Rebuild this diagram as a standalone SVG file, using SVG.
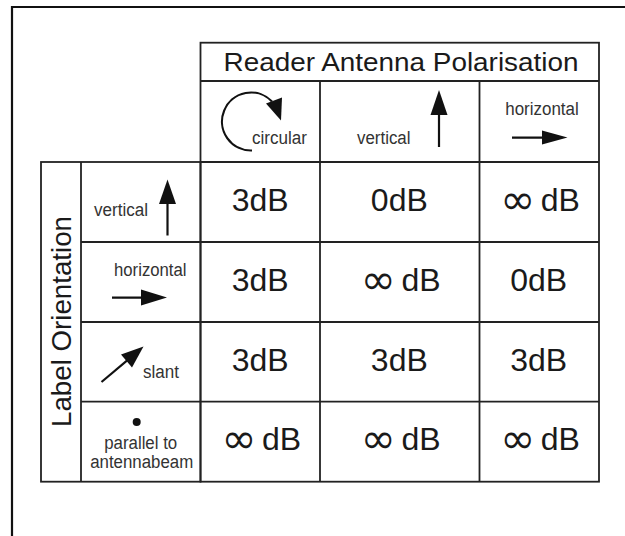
<svg xmlns="http://www.w3.org/2000/svg" width="625" height="536" viewBox="0 0 625 536">
<style>
.grid{stroke:#222;stroke-width:1.8;fill:none}
.frame{stroke:#111;stroke-width:2.2;fill:none}
.t{font-family:"Liberation Sans",Arial,sans-serif;fill:#1a1a1a}
.title{font-size:25px}
.side{font-size:27px}
.lab{font-size:18px;fill:#333}
.val{font-size:32px;text-anchor:middle}
.inf{font-family:"DejaVu Sans",sans-serif;font-size:42px}
.ln{stroke:#111;stroke-width:2.2;fill:none}
.hd{fill:#111}
</style>
<rect width="625" height="536" fill="#fff"/>
<path class="frame" d="M12,536 V7 H625"/>

<g id="grid">
<rect class="grid" x="200.5" y="42.7" width="398.5" height="439"/>
<rect class="grid" x="41" y="162" width="159.5" height="319.7"/>
<line class="grid" x1="200.5" y1="81" x2="599" y2="81"/>
<line class="grid" x1="200.5" y1="162" x2="599" y2="162"/>
<line class="grid" x1="81" y1="162" x2="81" y2="481.7"/>
<line class="grid" x1="320" y1="81" x2="320" y2="481.7"/>
<line class="grid" x1="479.5" y1="81" x2="479.5" y2="481.7"/>
<line class="grid" x1="81" y1="242" x2="599" y2="242"/>
<line class="grid" x1="81" y1="322" x2="599" y2="322"/>
<line class="grid" x1="81" y1="401.6" x2="599" y2="401.6"/>
</g>

<g id="title">
<text class="t title" x="401" y="70.5" text-anchor="middle" textLength="355" lengthAdjust="spacingAndGlyphs">Reader Antenna Polarisation</text>
</g>

<g id="side-label">
<text class="t side" transform="translate(71,321.5) rotate(-90)" text-anchor="middle" textLength="211" lengthAdjust="spacingAndGlyphs">Label Orientation</text>
</g>

<g id="head-circular">
<path class="ln" d="M252,150.5 A29 29 0 1 1 272,101.5"/>
<polygon class="hd" points="281,120.5 266,103.5 282,97.5"/>
<text class="t lab" x="252" y="143.5" textLength="55" lengthAdjust="spacingAndGlyphs">circular</text>
</g>

<g id="head-vertical">
<line class="ln" x1="439" y1="147" x2="439" y2="112"/>
<polygon class="hd" points="439,90 430.5,115 447.5,115"/>
<text class="t lab" x="357" y="143.5" textLength="53.5" lengthAdjust="spacingAndGlyphs">vertical</text>
</g>

<g id="head-horizontal">
<text class="t lab" x="542" y="114.5" text-anchor="middle" textLength="73.5" lengthAdjust="spacingAndGlyphs">horizontal</text>
<line class="ln" x1="512" y1="137.6" x2="545" y2="137.6"/>
<polygon class="hd" points="567.5,137.6 542,130.6 542,144.6"/>
</g>

<g id="row-vertical">
<text class="t lab" x="94" y="215.5" textLength="54" lengthAdjust="spacingAndGlyphs">vertical</text>
<line class="ln" x1="167.5" y1="235.5" x2="167.5" y2="200"/>
<polygon class="hd" points="167.5,179.5 159,204 176,204"/>
</g>

<g id="row-horizontal">
<text class="t lab" x="114" y="275.5" textLength="72.5" lengthAdjust="spacingAndGlyphs">horizontal</text>
<line class="ln" x1="112" y1="297.6" x2="145" y2="297.6"/>
<polygon class="hd" points="167,297.6 141,289.6 141,305.6"/>
</g>

<g id="row-slant">
<line class="ln" x1="101.5" y1="382" x2="129" y2="358.8"/>
<polygon class="hd" points="143.5,346.5 121,354.5 132,367.5"/>
<text class="t lab" x="143" y="377.5" textLength="36" lengthAdjust="spacingAndGlyphs">slant</text>
</g>

<g id="row-parallel">
<circle cx="136.7" cy="422" r="4" fill="#111"/>
<text class="t lab" x="140.7" y="449" text-anchor="middle" textLength="73" lengthAdjust="spacingAndGlyphs">parallel to</text>
<text class="t lab" x="141.7" y="468.3" text-anchor="middle" textLength="103" lengthAdjust="spacingAndGlyphs">antennabeam</text>
</g>

<g id="values">
<text class="t val" x="260.2" y="211">3dB</text>
<text class="t val" x="399.3" y="211">0dB</text>
<text class="t val" x="539.9" y="211"><tspan class="inf" dy="3">∞</tspan><tspan dy="-3" dx="-3"> dB</tspan></text>
<text class="t val" x="260.2" y="291">3dB</text>
<text class="t val" x="400.5" y="291"><tspan class="inf" dy="3">∞</tspan><tspan dy="-3" dx="-3"> dB</tspan></text>
<text class="t val" x="538.7" y="291">0dB</text>
<text class="t val" x="260.2" y="370.5">3dB</text>
<text class="t val" x="399.3" y="370.5">3dB</text>
<text class="t val" x="538.7" y="370.5">3dB</text>
<text class="t val" x="261.2" y="450"><tspan class="inf" dy="3">∞</tspan><tspan dy="-3" dx="-3"> dB</tspan></text>
<text class="t val" x="400.5" y="450"><tspan class="inf" dy="3">∞</tspan><tspan dy="-3" dx="-3"> dB</tspan></text>
<text class="t val" x="539.9" y="450"><tspan class="inf" dy="3">∞</tspan><tspan dy="-3" dx="-3"> dB</tspan></text>
</g>
</svg>
